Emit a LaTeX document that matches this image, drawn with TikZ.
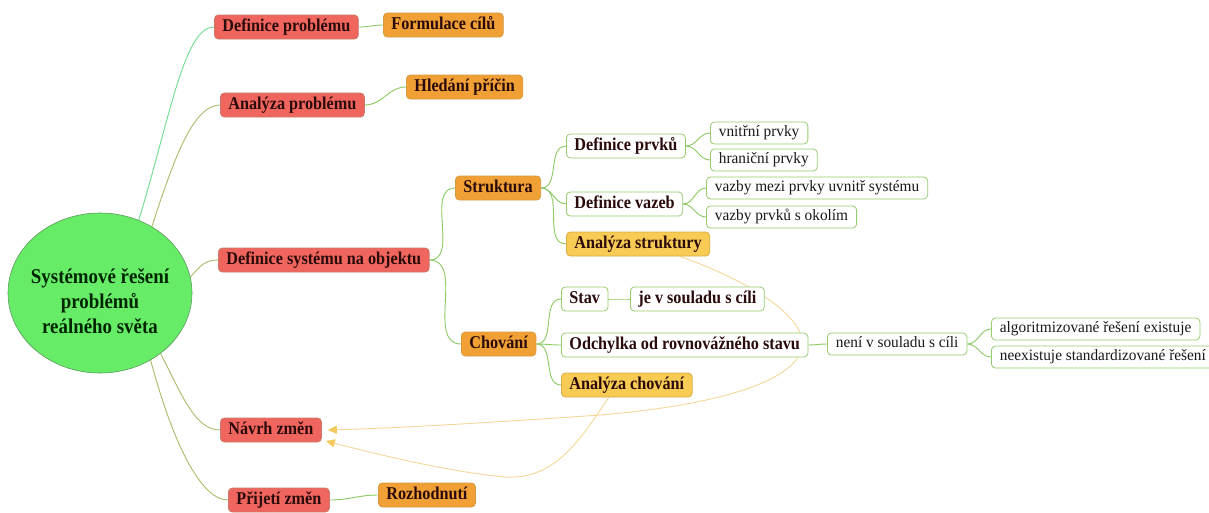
\documentclass[tikz,border=0pt]{standalone}
\usepackage{fontspec}
\setmainfont{Liberation Serif}
\newfontfamily\nodebold[FakeStretch=0.9]{Liberation Serif Bold}
\newfontfamily\nodereg[FakeStretch=0.97]{Liberation Serif}
\usetikzlibrary{arrows.meta,shapes.geometric}
\pgfdeclarelayer{bg}
\pgfsetlayers{bg,main}

\definecolor{rootgreen}{HTML}{66EC66}
\definecolor{rootline}{HTML}{5A9A5A}
\definecolor{nodered}{HTML}{F0665E}
\definecolor{redline}{HTML}{C87A6A}
\definecolor{nodeorange}{HTML}{F0A035}
\definecolor{orangeline}{HTML}{D89A40}
\definecolor{nodeyellow}{HTML}{F8CB55}
\definecolor{yellowline}{HTML}{D8AE45}
\definecolor{leafline}{HTML}{96CC6E}
\definecolor{textdark}{HTML}{2A0A0A}
\definecolor{rootgreenlink}{HTML}{6FDC8F}
\definecolor{olivelink}{HTML}{A9BB6B}
\definecolor{branchlink}{HTML}{8ACB62}
\definecolor{arrowline}{HTML}{F5D79A}
\definecolor{arrowhead}{HTML}{F6C95C}

\begin{document}
\begin{tikzpicture}[x=1pt,y=-1pt,
  box/.style={rounded corners=4pt, anchor=west, inner xsep=8pt, inner ysep=0pt, line width=0.8pt},
  boldbox/.style={box, font=\nodebold\fontsize{18}{20}\selectfont, text height=12.5pt, text depth=4pt, minimum height=24pt, text=textdark},
  redbox/.style={boldbox, fill=nodered, draw=redline},
  orangebox/.style={boldbox, fill=nodeorange, draw=orangeline},
  yellowbox/.style={boldbox, fill=nodeyellow, draw=yellowline},
  whitebold/.style={boldbox, fill=white, draw=leafline},
  leaf/.style={box, inner xsep=8.5pt, font=\nodereg\fontsize{15.8}{17}\selectfont, text height=11pt, text depth=3.5pt, minimum height=22pt, fill=white, draw=leafline, text=black!90},
  rootlink/.style={draw=olivelink, line width=0.9pt},
  link/.style={draw=branchlink, line width=0.9pt},
  arrowlink/.style={draw=arrowline, line width=0.9pt, -{Triangle[length=9pt,width=8pt,color=arrowhead]}}
]
\useasboundingbox (0,0) rectangle (1209,512);

% central topic
\node[ellipse, minimum width=184pt, minimum height=160pt, inner sep=0pt,
      fill=rootgreen, draw=rootline, line width=0.6pt] (root) at (100,293) {};
\node[align=center, text=black!85!green, inner sep=0pt,
      font=\nodebold\fontsize{21}{25}\selectfont] (roottext) at (100,301)
      {Systémové řešení\\problémů\\reálného světa};

% main branches
\node[redbox] (dp) at (214,27) {Definice problému};
\node[orangebox] (fc) at (383,25) {Formulace cílů};
\node[redbox] (ap) at (220,105) {Analýza problému};
\node[orangebox] (hp) at (406,87) {Hledání příčin};
\node[redbox] (ds) at (218,260) {Definice systému na objektu};
\node[redbox] (nz) at (220,430) {Návrh změn};
\node[redbox] (pz) at (228,500) {Přijetí změn};
\node[orangebox] (rz) at (378,495) {Rozhodnutí};

% structure
\node[orangebox] (st) at (455,188) {Struktura};
\node[whitebold] (dpr) at (566,146) {Definice prvků};
\node[leaf] (vp) at (710,133) {vnitřní prvky};
\node[leaf] (hpr) at (710,160) {hraniční prvky};
\node[whitebold] (dv) at (566,204) {Definice vazeb};
\node[leaf] (vm) at (706,188) {vazby mezi prvky uvnitř systému};
\node[leaf] (vo) at (706,217) {vazby prvků s okolím};
\node[yellowbox] (as) at (566,244) {Analýza struktury};

% behaviour
\node[orangebox] (ch) at (461,344) {Chování};
\node[whitebold] (sv) at (561,299) {Stav};
\node[whitebold] (js) at (630,299) {je v souladu s cíli};
\node[whitebold] (od) at (561,345) {Odchylka od rovnovážného stavu};
\node[leaf] (ns) at (827,344) {není v souladu s cíli};
\node[leaf] (al) at (991,329) {algoritmizované řešení existuje};
\node[leaf] (ne) at (991,357) {neexistuje standardizované řešení};
\node[yellowbox] (ac) at (561,385) {Analýza chování};

\begin{pgfonlayer}{bg}
\fill[white] (0,0) rectangle (1209,512);

% links from the central topic
\draw[rootlink, draw=rootgreenlink] (root.62) .. controls (170,118) and (184,27) .. (dp.west);
\draw[rootlink] (root.52) .. controls (172,165) and (192,105) .. (ap.west);
\draw[rootlink] (root.10) .. controls (200,266) and (205,260) .. (ds.west);
\draw[rootlink] (root.-45) .. controls (182,395) and (195,430) .. (nz.west);
\draw[rootlink] (root.-53) .. controls (172,440) and (200,500) .. (pz.west);

% branch links
\draw[link] (dp.east) to[out=0,in=180] (fc.west);
\draw[link] (ap.east) to[out=0,in=180] (hp.west);
\draw[link] (ds.east) to[out=0,in=180] (st.west);
\draw[link] (ds.east) to[out=0,in=180] (ch.west);
\draw[link] (st.east) to[out=0,in=180] (dpr.west);
\draw[link] (st.east) to[out=0,in=180] (dv.west);
\draw[link] (st.east) to[out=0,in=180] (as.west);
\draw[link] (dpr.east) to[out=0,in=180] (vp.west);
\draw[link] (dpr.east) to[out=0,in=180] (hpr.west);
\draw[link] (dv.east) to[out=0,in=180] (vm.west);
\draw[link] (dv.east) to[out=0,in=180] (vo.west);
\draw[link] (ch.east) to[out=0,in=180] (sv.west);
\draw[link] (ch.east) to[out=0,in=180] (od.west);
\draw[link] (ch.east) to[out=0,in=180] (ac.west);
\draw[link] (sv.east) to[out=0,in=180] (js.west);
\draw[link] (od.east) to[out=0,in=180] (ns.west);
\draw[link] (ns.east) to[out=0,in=180] (al.west);
\draw[link] (ns.east) to[out=0,in=180] (ne.west);
\draw[link] (pz.east) to[out=0,in=180] (rz.west);

% feedback arrows into the change proposal
\draw[arrowlink] ([xshift=42pt]as.south) .. controls (760,285) and (805,320) .. (802,345)
  .. controls (800,380) and (720,405) .. (600,415)
  .. controls (500,422) and (400,428) .. ([xshift=6pt]nz.east);
\draw[arrowlink] ([xshift=-18pt]ac.south) .. controls (580,440) and (555,480) .. (505,477)
  .. controls (450,472) and (380,455) .. ([xshift=4pt,yshift=-11pt]nz.east);
\end{pgfonlayer}
\end{tikzpicture}
\end{document}
